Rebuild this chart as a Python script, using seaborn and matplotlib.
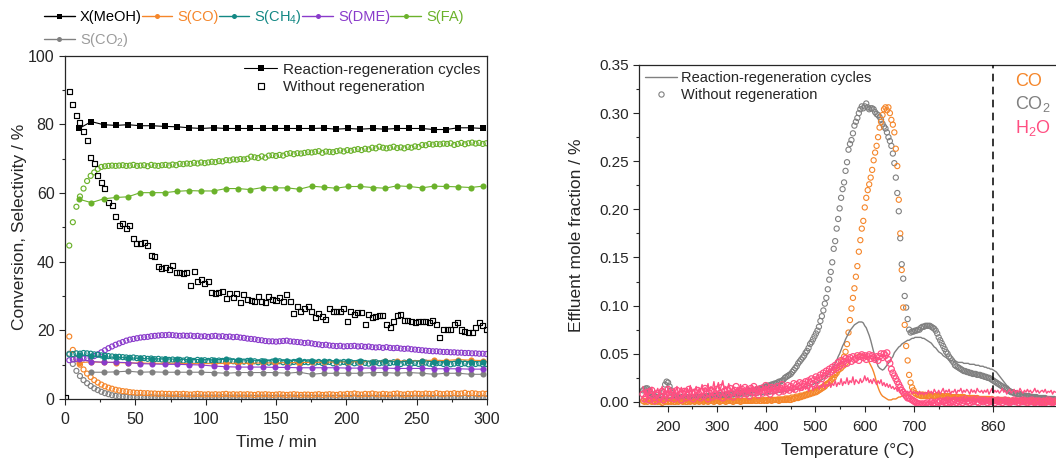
import numpy as np
import matplotlib
matplotlib.use("Agg")
import matplotlib.pyplot as plt
from matplotlib.lines import Line2D
from matplotlib.ticker import MultipleLocator, FixedLocator
import seaborn as sns

# ---------------- left panel data ----------------
t_reg = np.linspace(10, 297, 34)          # reaction-regeneration sampling (min)
t_noreg = np.linspace(0.5, 299.5, 119)    # without-regeneration sampling (min)

x_meoh_reg = [78.8, 80.8, 79.9, 79.7, 79.9, 79.6, 79.6, 79.4, 79.3, 79.0,
              78.8, 79.0, 78.8, 78.8, 78.8, 78.8, 78.8, 78.8, 78.8, 78.8,
              78.9, 78.6, 78.8, 78.6, 78.8, 78.6, 78.8, 78.8, 78.8, 78.5,
              78.5, 79.0, 79.0, 78.8]
s_fa_reg = [58.2, 57.2, 58.3, 58.7, 58.9, 60.1, 60.1, 60.1, 60.5, 60.7,
            60.6, 60.6, 61.3, 61.3, 61.0, 61.6, 61.5, 61.5, 61.1, 62.0,
            61.7, 61.4, 61.9, 61.9, 61.6, 61.4, 62.1, 61.9, 61.5, 62.0,
            61.9, 61.8, 61.6, 62.0]
s_ch4_reg = [12.9, 12.6, 12.3, 12.1, 12.0, 11.8, 11.7, 11.7, 11.6, 11.5,
             11.5, 11.4, 11.6, 11.5, 11.3, 11.2, 11.4, 11.2, 11.3, 11.0,
             11.2, 11.1, 11.0, 11.2, 10.9, 11.1, 10.8, 11.0, 11.1, 10.9,
             10.8, 11.0, 10.9, 10.8]
s_co_reg = [10.6, 10.8, 10.7, 10.6, 10.5, 10.5, 10.4, 10.4, 10.4, 10.3,
            10.3, 10.3, 10.4, 10.4, 10.4, 10.5, 10.5, 10.6, 10.6, 10.7,
            10.7, 10.8, 10.8, 10.9, 10.9, 11.0, 11.0, 11.1, 11.2, 11.3,
            11.2, 11.5, 11.3, 11.2]
s_dme_reg = [11.6, 10.9, 10.7, 10.7, 10.6, 10.3, 10.2, 10.1, 10.1, 10.0,
             9.9, 9.6, 9.4, 9.3, 9.3, 9.3, 9.2, 9.2, 9.1, 9.1,
             9.1, 9.1, 9.0, 9.0, 9.0, 9.0, 8.9, 8.9, 8.9, 8.8,
             8.8, 8.8, 8.7, 8.7]
s_co2_reg = [np.nan, 7.8, 7.8, 7.9, 8.1, 7.8, 7.9, 7.8, 7.8, 7.8,
             7.8, 7.7, 7.5, 7.7, 7.7, 7.7, 7.7, 7.5, 7.8, 7.2,
             7.5, 7.5, 7.5, 7.5, 7.7, 7.7, 7.5, 7.7, 7.5, 7.2,
             7.5, 7.5, 7.2, 7.2]

x_meoh_noreg = [0.5, 89.7, 85.8, 82.5, 80.6, 78.0, 75.2, 70.4, 68.5, 65.2,
                63.2, 61.2, 57.2, 56.5, 53.2, 50.4, 51.0, 49.8, 50.4, 46.8,
                45.4, 45.4, 45.7, 44.8, 41.9, 41.5, 38.5, 38.1, 38.3, 37.8,
                39.0, 36.9, 36.9, 36.6, 36.9, 33.2, 37.1, 34.2, 34.9, 33.7,
                34.2, 31.0, 30.8, 31.0, 31.3, 29.3, 30.8, 29.6, 30.8, 28.2,
                30.3, 29.0, 28.8, 28.3, 30.0, 28.3, 28.2, 29.8, 29.0, 28.8,
                29.6, 28.3, 30.3, 28.3, 25.0, 26.9, 25.4, 26.4, 26.9, 25.6,
                23.7, 24.8, 24.0, 23.3, 26.4, 25.6, 25.4, 25.4, 26.4, 22.5,
                25.4, 24.5, 25.2, 25.1, 21.8, 24.5, 23.8, 24.0, 24.2, 24.2,
                21.6, 20.9, 22.7, 24.2, 24.5, 23.0, 22.8, 22.5, 22.2, 22.5,
                22.5, 22.5, 22.2, 22.8, 21.6, 18.0, 20.3, 20.3, 20.3, 21.7,
                22.2, 20.1, 19.6, 19.3, 19.4, 20.9, 22.2, 21.3, 20.3]
s_fa_noreg = [np.nan, 44.7, 51.5, 56.0, 59.0, 61.3, 63.5, 65.0, 66.0, 67.0,
              67.6, 67.8, 67.9, 68.0, 67.9, 68.0, 68.1, 67.9, 68.0, 68.2,
              67.9, 68.0, 68.1, 67.8, 68.2, 68.0, 67.9, 68.1, 68.2, 68.0,
              68.3, 68.1, 68.5, 68.4, 68.6, 68.5, 68.8, 68.6, 68.9, 68.7,
              68.9, 69.1, 69.0, 69.3, 69.2, 69.6, 69.5, 69.8, 69.7, 69.9,
              69.8, 70.0, 70.6, 70.4, 70.2, 70.7, 70.3, 70.9, 71.0, 70.8,
              71.1, 70.9, 71.4, 71.6, 71.3, 71.6, 71.5, 71.7, 71.9, 71.8,
              72.0, 72.2, 71.7, 72.1, 72.0, 71.9, 72.2, 72.4, 72.1, 72.5,
              72.3, 72.6, 72.8, 72.5, 72.9, 72.7, 73.2, 73.0, 73.5, 73.2,
              73.0, 73.2, 73.5, 73.1, 73.3, 73.0, 73.4, 73.2, 73.6, 73.4,
              74.0, 73.9, 74.3, 74.1, 74.3, 74.2, 74.4, 74.3, 74.5, 74.0,
              74.3, 74.6, 74.2, 74.5, 74.7, 74.4, 74.6, 74.3, 74.5]
s_ch4_noreg = [np.nan, 13.0, 13.1, 13.3, 13.2, 13.4, 13.3, 13.2, 13.0, 12.9,
               12.7, 12.6, 12.5, 12.4, 12.3, 12.3, 12.2, 12.1, 12.0, 12.1,
               11.9, 11.8, 11.9, 11.7, 11.8, 11.6, 11.7, 11.5, 11.6, 11.4,
               11.5, 11.3, 11.4, 11.2, 11.5, 11.3, 11.1, 11.4, 11.2, 11.3,
               11.1, 11.3, 11.0, 11.2, 11.1, 10.9, 11.2, 11.0, 10.8, 11.1,
               10.9, 11.1, 10.8, 11.0, 10.7, 11.0, 10.9, 10.6, 10.9, 10.8,
               11.0, 10.7, 10.9, 10.6, 10.8, 10.9, 10.5, 10.8, 10.7, 10.9,
               10.6, 10.8, 10.5, 10.7, 10.8, 10.4, 10.7, 10.6, 10.8, 10.5,
               10.7, 10.4, 10.6, 10.8, 10.5, 10.3, 10.6, 10.7, 10.4, 10.6,
               10.3, 10.5, 10.7, 10.4, 10.2, 10.6, 10.5, 10.3, 10.5, 10.2,
               10.4, 10.6, 10.3, 10.1, 10.4, 10.5, 10.2, 10.4, 10.1, 10.3,
               10.5, 10.2, 10.4, 10.1, 10.3, 10.2, 10.4, 10.1, 10.2]
s_dme_noreg = [np.nan, 11.3, 11.5, 11.6, 11.7, 11.8, 11.9, 12.1, 12.5, 13.0,
               13.6, 14.2, 14.8, 15.3, 15.8, 16.2, 16.6, 17.0, 17.3, 17.5,
               17.7, 17.9, 18.0, 18.1, 18.3, 18.4, 18.5, 18.6, 18.6, 18.7,
               18.6, 18.5, 18.4, 18.5, 18.4, 18.5, 18.3, 18.4, 18.2, 18.3,
               18.1, 18.3, 18.4, 18.2, 18.3, 18.1, 18.2, 18.0, 18.1, 17.9,
               17.8, 17.6, 17.5, 17.4, 17.2, 17.1, 16.9, 16.8, 16.8, 16.7,
               16.8, 16.9, 17.0, 16.8, 16.7, 16.6, 16.5, 16.3, 16.4, 16.2,
               16.0, 15.9, 15.7, 15.8, 15.6, 15.5, 15.4, 15.5, 15.3, 15.4,
               15.4, 15.5, 15.3, 15.4, 15.2, 15.3, 15.1, 15.0, 15.1, 14.9,
               15.1, 14.9, 14.8, 14.9, 14.7, 14.6, 14.7, 14.5, 14.4, 14.3,
               14.2, 14.1, 14.0, 13.9, 13.9, 13.8, 13.7, 13.7, 13.6, 13.6,
               13.5, 13.5, 13.4, 13.4, 13.3, 13.3, 13.2, 13.2, 13.1]
s_co_noreg = [np.nan, 18.2, 14.3, 11.8, 10.0, 8.6, 7.4, 6.4, 5.5, 4.8,
              4.2, 3.7, 3.3, 3.0, 2.7, 2.5, 2.3, 2.2, 2.0, 1.9,
              1.8, 1.8, 1.7, 1.7, 1.6, 1.6, 1.5, 1.6, 1.5, 1.5,
              1.4, 1.5, 1.4, 1.5, 1.4, 1.3, 1.4, 1.5, 1.4, 1.3,
              1.4, 1.3, 1.4, 1.3, 1.4, 1.5, 1.3, 1.4, 1.3, 1.4,
              1.3, 1.4, 1.3, 1.2, 1.4, 1.3, 1.4, 1.3, 1.2, 1.3,
              1.4, 1.3, 1.2, 1.3, 1.4, 1.3, 1.2, 1.3, 1.3, 1.2,
              1.3, 1.4, 1.2, 1.3, 1.4, 1.3, 1.2, 1.4, 1.3, 1.5,
              1.4, 1.6, 1.4, 1.3, 1.5, 1.4, 1.6, 1.4, 1.3, 1.5,
              1.4, 1.3, 1.5, 1.6, 1.4, 1.3, 1.5, 1.4, 1.6, 1.5,
              1.4, 1.6, 1.5, 1.4, 1.7, 1.5, 1.4, 1.6, 1.5, 1.7,
              1.5, 1.6, 1.8, 1.5, 1.7, 1.6, 1.4, 1.6, 1.5]
s_co2_noreg = [np.nan, 13.2, 10.2, 8.2, 6.7, 5.5, 4.6, 3.8, 3.1, 2.6,
               2.1, 1.7, 1.4, 1.1, 0.9, 0.8, 0.7, 0.6, 0.5, 0.5,
               0.4, 0.5, 0.4, 0.4, 0.5, 0.4, 0.4, 0.4, 0.5, 0.4,
               0.4, 0.4, 0.5, 0.4, 0.4, 0.4, 0.4, 0.5, 0.4, 0.4,
               0.4, 0.4, 0.4, 0.4, 0.5, 0.4, 0.4, 0.4, 0.4, 0.4,
               0.4, 0.4, 0.4, 0.3, 0.4, 0.4, 0.4, 0.4, 0.3, 0.4,
               0.4, 0.3, 0.4, 0.4, 0.4, 0.3, 0.4, 0.4, 0.3, 0.4,
               0.3, 0.4, 0.4, 0.3, 0.4, 0.3, 0.4, 0.3, 0.4, 0.3,
               0.3, 0.4, 0.3, 0.3, 0.4, 0.3, 0.3, 0.3, 0.4, 0.3,
               0.3, 0.3, 0.3, 0.4, 0.3, 0.3, 0.3, 0.3, 0.3, 0.3,
               0.3, 0.3, 0.3, 0.3, 0.3, 0.2, 0.3, 0.3, 0.3, 0.3,
               0.3, 0.2, 0.3, 0.3, 0.3, 0.2, 0.3, 0.3, 0.2]

species_labels = ["X(MeOH)", "S(CO)", "S(CH$_4$)", "S(DME)", "S(FA)", "S(CO$_2$)"]
left_xticks = [0, 50, 100, 150, 200, 250, 300]
left_yticks = [0, 20, 40, 60, 80, 100]

# ---------------- right panel data (values in 1e-3 %) ----------------
T_start, T_step = 150, 3
co2_noreg_m = [
    12, 13, 14, 14, 12, 10, 8, 7, 6, 5,
    5, 4, 5, 6, 10, 18, 21, 20, 16, 12,
    9, 7, 6, 5, 5, 4, 5, 4, 4, 5,
    4, 5, 4, 5, 5, 4, 5, 5, 4, 5,
    5, 5, 6, 5, 6, 5, 6, 6, 6, 6,
    6, 7, 6, 7, 7, 7, 7, 8, 7, 8,
    8, 8, 8, 9, 9, 9, 9, 10, 10, 10,
    10, 11, 11, 11, 12, 12, 12, 13, 13, 14,
    14, 15, 15, 16, 16, 17, 17, 18, 18, 19,
    19, 20, 21, 21, 22, 23, 25, 26, 27, 28,
    29, 31, 33, 35, 37, 40, 42, 44, 46, 48,
    51, 53, 56, 60, 62, 65, 68, 71, 74, 78,
    84, 89, 95, 102, 108, 117, 127, 135, 145, 159,
    167, 180, 190, 201, 212, 221, 228, 240, 249, 262,
    268, 272, 279, 287, 291, 295, 300, 304, 307, 305,
    307, 310, 306, 304, 305, 305, 304, 301, 299, 298,
    296, 293, 289, 286, 284, 280, 275, 271, 266, 258,
    248, 233, 217, 198, 170, 143, 128, 110, 98, 86,
    75, 72, 73, 73, 74, 74, 75, 75, 77, 78,
    78, 79, 79, 79, 79, 78, 77, 76, 74, 71,
    67, 64, 61, 58, 55, 52, 50, 47, 45, 43,
    41, 38, 37, 36, 35, 34, 33, 32, 32, 31,
    31, 30, 30, 29, 29, 29, 28, 28, 28, 27,
    27, 26, 26, 25, 25, 24, 23, 22, 21, 20,
    19, 18, 17, 16, 15, 14, 13, 12, 11, 10,
    10, 9, 9, 8, 8, 8, 7, 7, 6, 6,
    6, 6, 5, 5, 5, 5, 5, 4, 4, 4,
    4, 4, 4, 3, 3, 3, 3, 3, 3, 2]
co_noreg_m = [
    1, 0, 1, 0, 2, 1, 0, 1, 0, 1,
    0, 1, 0, -1, 1, 0, 1, 0, 1, 0,
    1, 0, 0, 1, 0, 1, 1, 0, 1, 0,
    0, 1, 0, 1, 1, 0, 1, 1, 0, 1,
    1, 0, 1, 1, 0, 1, 1, 1, 0, 1,
    1, 1, 0, 1, 1, 1, 0, 1, 1, 1,
    1, 0, 1, 1, 1, 1, 0, 1, 1, 1,
    1, 1, 1, 1, 1, 2, 1, 1, 2, 1,
    1, 2, 1, 2, 1, 2, 2, 1, 2, 2,
    2, 2, 1, 2, 2, 2, 2, 2, 3, 2,
    2, 3, 3, 4, 4, 4, 5, 5, 6, 6,
    7, 7, 8, 8, 9, 9, 10, 10, 11, 12,
    13, 14, 15, 16, 18, 19, 20, 22, 24, 25,
    28, 30, 33, 36, 39, 43, 47, 52, 60, 72,
    85, 97, 108, 118, 130, 141, 156, 168, 180, 188,
    202, 212, 220, 226, 233, 241, 251, 259, 266, 275,
    285, 291, 298, 304, 306, 303, 306, 300, 293, 288,
    280, 263, 245, 210, 175, 137, 98, 80, 58, 43,
    28, 20, 15, 12, 9, 8, 7, 7, 6, 6,
    6, 6, 7, 6, 6, 7, 6, 6, 6, 7,
    6, 6, 6, 5, 6, 6, 5, 6, 5, 5,
    5, 5, 5, 5, 4, 5, 4, 5, 4, 4,
    4, 4, 4, 4, 4, 3, 4, 3, 3, 3,
    3, 3, 3, 3, 3, 2, 3, 2, 2, 2,
    2, 2, 2, 2, 2, 2, 1, 2, 1, 1,
    1, 1, 1, 1, 1, 1, 1, 1, 0, 1,
    1, 0, 1, 1, 0, 1, 0, 1, 1, 0,
    0, 1, 0, 1, 0, 0, 1, 0, 1, 0]
h2o_noreg_m = [
    8, 3, 5, 10, 2, 6, 12, 4, 1, 7,
    9, 3, 6, 11, 2, 5, 8, 13, 4, 7,
    10, 3, 6, 12, 5, 8, 2, 9, 11, 4,
    7, 13, 5, 9, 3, 10, 6, 12, 8, 4,
    11, 6, 14, 8, 3, 9, 12, 5, 10, 7,
    13, 6, 9, 15, 4, 11, 8, 12, 6, 14,
    9, 5, 12, 16, 8, 11, 7, 13, 10, 15,
    8, 12, 6, 14, 10, 16, 9, 13, 7, 11,
    14, 9, 12, 17, 10, 13, 8, 15, 11, 14,
    12, 16, 10, 14, 18, 11, 15, 13, 17, 12,
    16, 14, 19, 13, 18, 16, 20, 15, 19, 18,
    21, 17, 22, 20, 24, 19, 23, 26, 22, 25,
    28, 24, 30, 27, 32, 29, 34, 31, 36, 33,
    38, 35, 41, 37, 43, 39, 42, 45, 40, 44,
    46, 42, 47, 44, 45, 48, 43, 47, 49, 46,
    48, 44, 47, 49, 45, 48, 46, 44, 47, 43,
    47, 50, 46, 50, 48, 51, 44, 40, 34, 30,
    27, 24, 21, 18, 15, 12, 10, 8, 6, 4,
    4, 3, 2, 1, 0, -1, -2, -2, -3, -2,
    -3, -2, -1, -3, -2, 0, -2, -1, -3, 0,
    -1, 1, -2, 0, 1, -1, 2, 0, -1, 1,
    0, 2, -1, 1, 0, 2, -1, 1, 3, 0,
    1, -1, 2, 0, 1, 3, 0, -1, 2, 1,
    0, 2, 1, -1, 1, 0, 2, 1, -1, 1,
    2, 0, 1, -1, 1, 2, 0, 1, -1, 0,
    1, 2, 0, 1, -1, 1, 0, 2, 0, 1,
    -1, 1, 0, 2, 0, -1, 1, 0, 1, -1,
    0, 1, -1, 0, 2, 0, 1, -1, 0, 1]
co2_reg_m = [
    15, 14, 12, 10, 8, 7, 6, 5, 5, 4,
    4, 5, 4, 4, 5, 4, 5, 4, 4, 5,
    4, 4, 5, 4, 4, 5, 4, 4, 5, 4,
    4, 5, 4, 4, 5, 4, 5, 4, 4, 5,
    4, 5, 5, 4, 5, 5, 4, 5, 5, 5,
    5, 5, 5, 5, 5, 6, 5, 5, 6, 5,
    6, 5, 6, 6, 5, 6, 6, 6, 6, 6,
    6, 6, 7, 6, 7, 7, 7, 7, 7, 8,
    7, 8, 8, 8, 8, 9, 8, 9, 9, 9,
    9, 10, 10, 10, 10, 11, 11, 11, 11, 12,
    12, 12, 13, 13, 13, 14, 14, 14, 15, 15,
    16, 16, 17, 17, 18, 18, 19, 19, 20, 21,
    22, 23, 24, 25, 27, 28, 30, 32, 34, 37,
    40, 43, 47, 50, 54, 58, 61, 65, 68, 71,
    74, 76, 78, 80, 81, 82, 83, 83, 83, 82,
    79, 77, 73, 69, 64, 58, 52, 47, 42, 37,
    35, 34, 33, 34, 36, 38, 40, 43, 45, 47,
    51, 53, 55, 57, 58, 60, 61, 62, 63, 64,
    64, 65, 66, 66, 67, 67, 67, 67, 67, 66,
    66, 65, 64, 63, 62, 61, 59, 57, 56, 54,
    52, 51, 50, 48, 47, 46, 45, 44, 43, 43,
    42, 42, 42, 41, 41, 41, 41, 40, 40, 40,
    40, 39, 39, 39, 39, 38, 38, 38, 37, 37,
    37, 36, 36, 35, 35, 34, 34, 33, 32, 31,
    29, 27, 25, 23, 21, 19, 17, 16, 14, 13,
    12, 11, 10, 9, 9, 8, 8, 8, 7, 7,
    7, 7, 6, 6, 6, 6, 6, 6, 5, 5,
    5, 5, 5, 5, 5, 5, 5, 4, 4, 4]
co_reg_m = [
    1, 1, 1, 1, 0, 1, 1, 1, 1, 1,
    1, 1, 1, 1, 1, 1, 1, 1, 1, 1,
    1, 1, 1, 1, 1, 1, 1, 1, 1, 1,
    1, 1, 1, 1, 1, 1, 1, 1, 1, 1,
    1, 1, 1, 1, 1, 1, 1, 1, 1, 1,
    1, 1, 1, 1, 1, 1, 1, 1, 1, 2,
    2, 2, 2, 2, 2, 2, 2, 2, 2, 2,
    2, 2, 2, 2, 2, 2, 3, 3, 3, 3,
    3, 3, 3, 3, 3, 4, 4, 4, 4, 4,
    4, 5, 5, 5, 5, 5, 6, 6, 6, 6,
    7, 7, 7, 8, 8, 8, 9, 9, 9, 10,
    10, 11, 11, 12, 12, 13, 14, 14, 15, 16,
    17, 18, 19, 20, 21, 22, 23, 24, 25, 26,
    28, 29, 30, 31, 32, 33, 35, 36, 38, 40,
    42, 44, 46, 47, 48, 49, 49, 50, 49, 48,
    48, 46, 44, 41, 38, 35, 31, 26, 20, 15,
    11, 8, 6, 5, 4, 3, 2, 2, 2, 3,
    3, 3, 4, 5, 5, 6, 6, 7, 7, 8,
    8, 8, 9, 9, 9, 9, 9, 10, 10, 10,
    10, 9, 9, 9, 9, 9, 8, 8, 8, 8,
    8, 7, 7, 7, 7, 7, 6, 6, 6, 6,
    6, 5, 5, 5, 5, 5, 5, 5, 4, 4,
    4, 4, 4, 4, 4, 4, 3, 3, 3, 3,
    3, 3, 3, 3, 3, 3, 2, 2, 2, 2,
    2, 2, 2, 2, 2, 2, 2, 2, 2, 2,
    2, 2, 2, 2, 2, 2, 2, 2, 2, 2,
    2, 1, 1, 1, 1, 1, 1, 1, 1, 1,
    1, 1, 1, 1, 1, 1, 1, 1, 1, 1]
h2o_reg_m = [
    16, 8, 13, 5, 14, 9, 15, 6, 12, 10,
    14, 7, 12, 16, 8, 13, 6, 15, 9, 12,
    7, 14, 10, 16, 8, 12, 15, 9, 13, 6,
    14, 10, 17, 8, 13, 11, 16, 9, 14, 12,
    18, 10, 15, 12, 19, 11, 16, 13, 21, 12,
    15, 20, 11, 17, 22, 13, 16, 12, 19, 14,
    11, 17, 13, 9, 15, 12, 18, 10, 14, 11,
    16, 9, 13, 11, 17, 10, 14, 8, 15, 12,
    10, 15, 12, 17, 9, 14, 11, 16, 10, 13,
    15, 11, 17, 12, 14, 9, 16, 13, 10, 15,
    12, 16, 10, 14, 13, 17, 11, 15, 12, 16,
    13, 17, 11, 15, 18, 12, 16, 14, 19, 13,
    17, 15, 20, 14, 18, 16, 21, 15, 19, 17,
    22, 16, 20, 18, 24, 17, 21, 19, 25, 18,
    22, 20, 26, 18, 23, 21, 19, 24, 20, 22,
    27, 22, 25, 20, 23, 19, 24, 21, 18, 22,
    19, 23, 17, 20, 16, 19, 15, 18, 14, 16,
    13, 15, 11, 14, 10, 13, 9, 12, 10, 11,
    9, 12, 8, 11, 9, 10, 7, 11, 8, 10,
    7, 10, 8, 12, 9, 11, 8, 13, 10, 9,
    12, 8, 11, 14, 9, 12, 10, 13, 8, 11,
    10, 13, 8, 12, 11, 14, 9, 12, 10, 13,
    11, 8, 13, 10, 12, 9, 14, 11, 10, 12,
    9, 12, 10, 13, 8, 11, 14, 9, 12, 10,
    12, 9, 11, 14, 10, 12, 8, 11, 13, 9,
    11, 13, 9, 12, 10, 14, 11, 9, 12, 10,
    13, 10, 12, 9, 11, 14, 10, 12, 9, 11,
    12, 10, 13, 9, 11, 10, 12, 8, 11, 10]

right_xticks = [200, 300, 400, 500, 600, 700, 860]
right_xminor = [250, 350, 450, 550, 650, 750]
right_yticks = [0.00, 0.05, 0.10, 0.15, 0.20, 0.25, 0.30, 0.35]
marker_labels = ["CO", "CO$_2$", "H$_2$O"]

# ---------------- style ----------------
sns.set_style("ticks")
plt.rcParams["font.family"] = ["Liberation Sans", "DejaVu Sans"]
plt.rcParams["mathtext.fontset"] = "custom"
plt.rcParams["mathtext.rm"] = "Liberation Sans"
plt.rcParams["mathtext.it"] = "Liberation Sans:italic"
plt.rcParams["mathtext.default"] = "regular"

C_X = "#000000"
C_CO = "#F5862A"
C_CH4 = "#138884"
C_DME = "#8A3BCB"
C_FA = "#6BB22B"
C_CO2 = "#808080"
C_CO2_TXT = "#9B9B9B"
C_H2O = "#FF4F82"

W, H = 1056, 459
fig = plt.figure(figsize=(W / 100, H / 100), dpi=100)
axL = fig.add_axes([65 / W, 1 - 399 / H, (487 - 65) / W, (399 - 55.7) / H])
axR = fig.add_axes([639 / W, 1 - 405.7 / H, (1057 - 639) / W, (405.7 - 65) / H])

# ---------------- left panel ----------------
s_open = 13
lw_open = 0.85
open_series = [
    (s_co2_noreg, C_CO2, "o"),
    (s_co_noreg, C_CO, "o"),
    (s_dme_noreg, C_DME, "o"),
    (s_ch4_noreg, C_CH4, "o"),
    (s_fa_noreg, C_FA, "o"),
    (x_meoh_noreg, C_X, "s"),
]
for vals, col, mk in open_series:
    sns.scatterplot(x=t_noreg, y=np.array(vals, dtype=float), ax=axL, marker=mk,
                    s=s_open if mk == "o" else 13, facecolor="none", edgecolor=col,
                    linewidth=lw_open, zorder=3, legend=False)

reg_series = [
    (s_co2_reg, C_CO2, "o"),
    (s_co_reg, C_CO, "o"),
    (s_dme_reg, C_DME, "o"),
    (s_ch4_reg, C_CH4, "o"),
    (s_fa_reg, C_FA, "o"),
    (x_meoh_reg, C_X, "s"),
]
for vals, col, mk in reg_series:
    sns.lineplot(x=t_reg, y=np.array(vals, dtype=float), ax=axL, color=col,
                 marker=mk, markersize=4.6 if mk == "s" else 4.4,
                 markeredgewidth=0, linewidth=0.8, estimator=None, sort=False,
                 zorder=4, legend=False)

axL.set_xlim(0, 300)
axL.set_ylim(0, 100)
axL.xaxis.set_major_locator(FixedLocator(left_xticks))
axL.xaxis.set_minor_locator(MultipleLocator(25))
axL.yaxis.set_major_locator(FixedLocator(left_yticks))
axL.yaxis.set_minor_locator(MultipleLocator(10))
axL.tick_params(axis="both", which="major", direction="out", length=4.5, width=0.8,
                labelsize=11.5, pad=3)
axL.tick_params(axis="both", which="minor", direction="out", length=2.5, width=0.8)
axL.tick_params(axis="x", which="major", pad=4.5)
for sp in axL.spines.values():
    sp.set_linewidth(0.9)
    sp.set_visible(True)
axL.set_xlabel("Time / min", fontsize=12.5)
axL.set_ylabel("Conversion, Selectivity / %", fontsize=12.5)
axL.xaxis.set_label_coords(0.5, -0.105)
axL.yaxis.set_label_coords(-0.09, 0.5)

leg_handles = [
    Line2D([], [], color=C_X, lw=0.8, marker="s", ms=4.6, mew=0),
    Line2D([], [], ls="none", marker="s", ms=4.2, mfc="none", mec=C_X, mew=0.85),
]
axL.legend(leg_handles, ["Reaction-regeneration cycles", "Without regeneration"],
           loc="upper right", frameon=False, fontsize=11, handlelength=2.2,
           handletextpad=0.35, borderaxespad=0.25, borderpad=0.2, labelspacing=0.25)

# top legend for species (column-major fill: first column holds X(MeOH) and S(CO2))
sp_colors = [C_X, C_CO, C_CH4, C_DME, C_FA, C_CO2]
sp_markers = ["s", "o", "o", "o", "o", "o"]
txt_colors = [C_X, C_CO, C_CH4, C_DME, C_FA, C_CO2_TXT]
order = [0, 5, 1, 2, 3, 4]
sp_handles = [Line2D([], [], color=sp_colors[i], lw=1.0, marker=sp_markers[i], ms=3.6, mew=0)
              for i in order]
fig.legend(sp_handles, [species_labels[i] for i in order], loc="upper left",
           bbox_to_anchor=(44 / W, 1 - 8 / H), ncol=5, frameon=False,
           fontsize=10.5, handlelength=2.1, handletextpad=0.35, columnspacing=0.0,
           borderpad=0, borderaxespad=0, labelspacing=0.5,
           labelcolor=[txt_colors[i] for i in order])

# ---------------- right panel ----------------
def tgrid(n):
    return T_start + T_step * np.arange(n)

co2_noreg = np.array(co2_noreg_m) / 1000
co_noreg = np.array(co_noreg_m) / 1000
h2o_noreg = np.array(h2o_noreg_m) / 1000
co2_reg = np.array(co2_reg_m) / 1000
co_reg = np.array(co_reg_m) / 1000
h2o_reg = np.array(h2o_reg_m) / 1000

s_r = 14
sns.scatterplot(x=tgrid(len(co2_noreg)), y=co2_noreg, ax=axR, marker="o", s=s_r,
                facecolor="none", edgecolor=C_CO2, linewidth=0.8, zorder=2, legend=False)
sns.scatterplot(x=tgrid(len(co_noreg)), y=co_noreg, ax=axR, marker="o", s=s_r,
                facecolor="none", edgecolor=C_CO, linewidth=0.8, zorder=2, legend=False)
sns.lineplot(x=tgrid(len(co2_reg)), y=co2_reg, ax=axR, color=C_CO2, linewidth=1.0,
             estimator=None, sort=False, zorder=3, legend=False)
sns.lineplot(x=tgrid(len(co_reg)), y=co_reg, ax=axR, color=C_CO, linewidth=1.0,
             estimator=None, sort=False, zorder=3, legend=False)
sns.lineplot(x=tgrid(len(h2o_reg)), y=h2o_reg, ax=axR, color=C_H2O, linewidth=1.0,
             estimator=None, sort=False, zorder=3, legend=False)
sns.scatterplot(x=tgrid(len(h2o_noreg)), y=h2o_noreg, ax=axR, marker="o", s=s_r + 4,
                facecolor="none", edgecolor=C_H2O, linewidth=0.9, zorder=4, legend=False)

axR.axvline(860, color="black", lw=1.1, ls=(0, (5, 3.5)), zorder=5)

axR.set_xlim(142, 990)
axR.set_ylim(-0.004, 0.35)
axR.xaxis.set_major_locator(FixedLocator(right_xticks))
axR.xaxis.set_minor_locator(FixedLocator(right_xminor))
axR.yaxis.set_major_locator(FixedLocator(right_yticks))
axR.yaxis.set_minor_locator(MultipleLocator(0.025))
axR.yaxis.set_major_formatter(matplotlib.ticker.FormatStrFormatter("%.2f"))
axR.tick_params(axis="both", which="major", direction="out", length=4.5, width=0.8,
                labelsize=11, pad=3)
axR.tick_params(axis="both", which="minor", direction="out", length=2.5, width=0.8)
axR.tick_params(axis="x", which="major", pad=6)
for name, sp in axR.spines.items():
    sp.set_linewidth(0.9)
axR.spines["right"].set_visible(False)
axR.spines["top"].set_visible(True)
axR.set_xlabel("Temperature (\u00b0C)", fontsize=12.5)
axR.set_ylabel("Effluent mole fraction / %", fontsize=12.5)
axR.xaxis.set_label_coords(0.5, -0.11)
axR.yaxis.set_label_coords(-0.132, 0.5)

r_handles = [
    Line2D([], [], color=C_CO2, lw=1.0),
    Line2D([], [], ls="none", marker="o", ms=3.8, mfc="none", mec=C_CO2, mew=0.8),
]
axR.legend(r_handles, ["Reaction-regeneration cycles", "Without regeneration"],
           loc="upper left", frameon=False, fontsize=10.5, handlelength=2.2,
           handletextpad=0.3, borderaxespad=0.2, borderpad=0.2, labelspacing=0.2)

for lab, col, yc in zip(marker_labels, [C_CO, C_CO2, C_H2O], [81.7, 103.5, 128]):
    fig.text(1015 / W, 1 - yc / H, lab, color=col, fontsize=13, ha="left", va="center")

fig.savefig("out.png", dpi=100)
